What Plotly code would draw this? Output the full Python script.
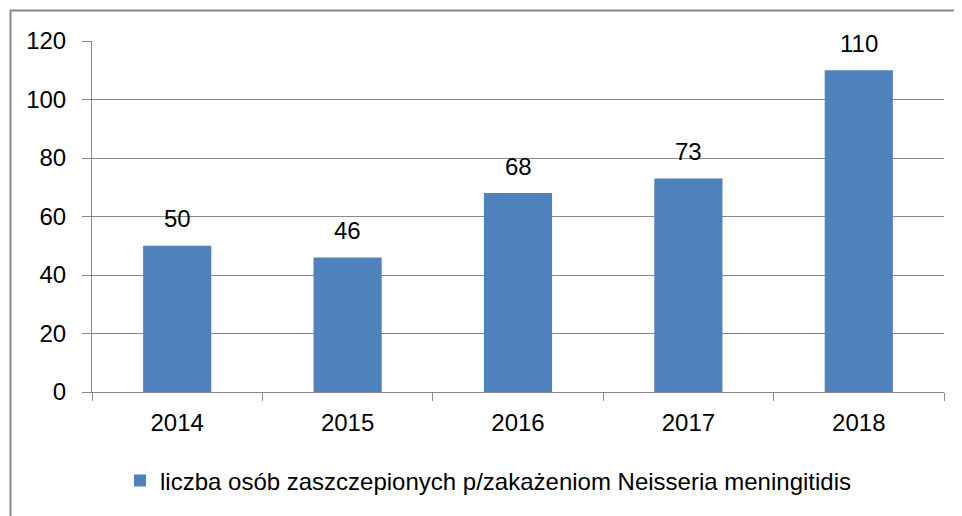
import plotly.graph_objects as go

years = ["2014", "2015", "2016", "2017", "2018"]
values = [50, 46, 68, 73, 110]
series_name = "liczba osób zaszczepionych p/zakażeniom Neisseria meningitidis"
y_ticks = [0, 20, 40, 60, 80, 100, 120]

# page body has an 8px margin, so the figure is sized to fit inside it
W, H = 954, 508
L, R, T, B = 84, 18, 33, 124
pw, ph = W - L - R, H - T - B

font = "Liberation Sans, Arial, sans-serif"
FS = 24

fig = go.Figure()
fig.add_trace(go.Bar(
    x=years, y=values, name=series_name,
    marker=dict(color="#4F81BD", line=dict(width=0)),
))

for i, v in enumerate(values):
    fig.add_annotation(x=i, y=v, text=str(v), showarrow=False,
                       yanchor="middle", yshift=27,
                       font=dict(family=font, size=FS, color="#000000"))

fig.update_layout(
    width=W, height=H,
    margin=dict(l=L, r=R, t=T, b=B, pad=0),
    paper_bgcolor="white", plot_bgcolor="white",
    bargap=0.6,
    showlegend=True,
    legend=dict(orientation="h", x=(112 - L) / pw, xanchor="left",
                y=-(473 - (T + ph)) / ph, yanchor="middle",
                font=dict(family=font, size=FS, color="#000000"),
                bgcolor="rgba(0,0,0,0)"),
    font=dict(family=font, size=FS, color="#000000"),
)
fig.update_xaxes(
    type="category", tickson="boundaries", range=[-0.5, len(years) - 0.5],
    ticks="outside", ticklen=8, tickcolor="#898989", tickwidth=1,
    showline=True, linecolor="#898989", linewidth=1,
    showgrid=False, tickfont=dict(family=font, size=FS, color="#000000"),
    ticklabelstandoff=9, tickangle=0,
)
fig.update_yaxes(
    range=[0, 120], tickvals=y_ticks,
    ticks="outside", ticklen=9, tickcolor="#898989", tickwidth=1,
    showline=True, linecolor="#898989", linewidth=1,
    showgrid=True, gridcolor="#898989", gridwidth=1,
    zeroline=False,
    tickfont=dict(family=font, size=FS, color="#000000"),
    ticklabelstandoff=11,
)
# outer chart frame
fig.add_shape(type="rect", xref="paper", yref="paper",
              x0=(2.5 - L) / pw, x1=(W + 20 - L) / pw,
              y0=-(H + 20 - (T + ph)) / ph, y1=((T + ph) - 2.5) / ph,
              line=dict(color="#868686", width=2), fillcolor="rgba(0,0,0,0)",
              layer="below")

fig.write_html("out.html")
